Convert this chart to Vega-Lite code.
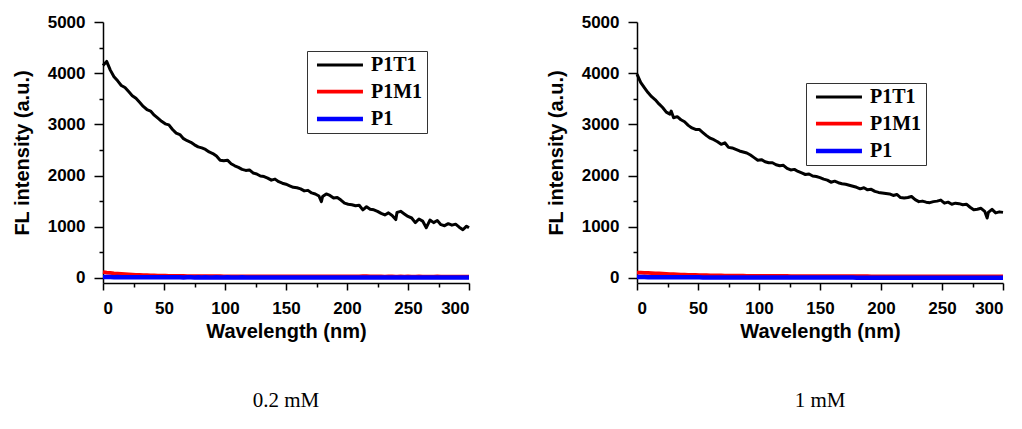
{
  "$schema": "https://vega.github.io/schema/vega-lite/v6.json",
  "padding": {"left": 12, "top": 13, "right": 5, "bottom": 5},
  "background": "white",
  "spacing": 74,
  "config": {
    "view": {"stroke": null},
    "axis": {
      "labelFont": "Liberation Sans", "labelFontWeight": "bold", "labelFontSize": 17, "labelColor": "black",
      "titleFont": "Liberation Sans", "titleFontWeight": "bold", "titleFontSize": 20, "titleColor": "black",
      "domainColor": "black", "tickColor": "black", "domainWidth": 1.5, "tickWidth": 1.5,
      "grid": false, "tickSize": 7, "labelPadding": 5, "format": "d"
    },
    "legend": {
      "strokeColor": "#333333", "fillColor": "white", "padding": 4,
      "symbolType": "M-0.59,0H4.82", "symbolSize": 289, "symbolStrokeWidth": 3,
      "labelFont": "Liberation Serif", "labelFontSize": 20, "labelFontWeight": "bold", "labelColor": "black",
      "rowPadding": 6, "labelOffset": 38
    }
  },
  "resolve": {"scale": {"color": "independent", "strokeWidth": "independent"}, "legend": {"color": "independent"}},
  "datasets": {
    "left": [
      {"x":0,"P1T1":4150,"P1M1":115,"P1":18},
      {"x":3,"P1T1":4230,"P1M1":104,"P1":16},
      {"x":6,"P1T1":4060,"P1M1":96,"P1":15},
      {"x":9,"P1T1":3930,"P1M1":88,"P1":14},
      {"x":12,"P1T1":3850,"P1M1":82,"P1":15},
      {"x":15,"P1T1":3760,"P1M1":77,"P1":13},
      {"x":18,"P1T1":3720,"P1M1":72,"P1":14},
      {"x":21,"P1T1":3640,"P1M1":68,"P1":12},
      {"x":24,"P1T1":3560,"P1M1":64,"P1":13},
      {"x":27,"P1T1":3510,"P1M1":61,"P1":12},
      {"x":30,"P1T1":3430,"P1M1":58,"P1":12},
      {"x":33,"P1T1":3350,"P1M1":55,"P1":11},
      {"x":36,"P1T1":3290,"P1M1":52,"P1":12},
      {"x":39,"P1T1":3260,"P1M1":50,"P1":11},
      {"x":42,"P1T1":3180,"P1M1":48,"P1":11},
      {"x":45,"P1T1":3120,"P1M1":46,"P1":10},
      {"x":48,"P1T1":3060,"P1M1":44,"P1":11},
      {"x":51,"P1T1":3010,"P1M1":43,"P1":10},
      {"x":54,"P1T1":2990,"P1M1":41,"P1":10},
      {"x":57,"P1T1":2900,"P1M1":40,"P1":11},
      {"x":60,"P1T1":2830,"P1M1":39,"P1":10},
      {"x":63,"P1T1":2800,"P1M1":38,"P1":10},
      {"x":66,"P1T1":2720,"P1M1":37,"P1":9},
      {"x":69,"P1T1":2680,"P1M1":36,"P1":10},
      {"x":72,"P1T1":2650,"P1M1":36,"P1":10},
      {"x":75,"P1T1":2600,"P1M1":35,"P1":9},
      {"x":78,"P1T1":2560,"P1M1":34,"P1":10},
      {"x":81,"P1T1":2540,"P1M1":34,"P1":9},
      {"x":84,"P1T1":2510,"P1M1":33,"P1":10},
      {"x":87,"P1T1":2460,"P1M1":33,"P1":9},
      {"x":90,"P1T1":2430,"P1M1":32,"P1":9},
      {"x":93,"P1T1":2380,"P1M1":32,"P1":10},
      {"x":96,"P1T1":2300,"P1M1":32,"P1":9},
      {"x":99,"P1T1":2290,"P1M1":31,"P1":9},
      {"x":102,"P1T1":2300,"P1M1":31,"P1":10},
      {"x":105,"P1T1":2230,"P1M1":31,"P1":9},
      {"x":108,"P1T1":2190,"P1M1":31,"P1":9},
      {"x":111,"P1T1":2160,"P1M1":30,"P1":9},
      {"x":114,"P1T1":2120,"P1M1":30,"P1":10},
      {"x":117,"P1T1":2100,"P1M1":30,"P1":9},
      {"x":120,"P1T1":2110,"P1M1":30,"P1":9},
      {"x":123,"P1T1":2050,"P1M1":30,"P1":9},
      {"x":126,"P1T1":2030,"P1M1":30,"P1":8},
      {"x":129,"P1T1":1990,"P1M1":29,"P1":9},
      {"x":132,"P1T1":1980,"P1M1":30,"P1":9},
      {"x":135,"P1T1":1950,"P1M1":29,"P1":8},
      {"x":138,"P1T1":1910,"P1M1":29,"P1":9},
      {"x":141,"P1T1":1930,"P1M1":30,"P1":9},
      {"x":144,"P1T1":1880,"P1M1":29,"P1":8},
      {"x":147,"P1T1":1850,"P1M1":29,"P1":9},
      {"x":150,"P1T1":1830,"P1M1":29,"P1":8},
      {"x":153,"P1T1":1800,"P1M1":29,"P1":9},
      {"x":156,"P1T1":1770,"P1M1":28,"P1":8},
      {"x":159,"P1T1":1760,"P1M1":29,"P1":9},
      {"x":162,"P1T1":1740,"P1M1":29,"P1":8},
      {"x":165,"P1T1":1700,"P1M1":28,"P1":8},
      {"x":168,"P1T1":1710,"P1M1":29,"P1":9},
      {"x":171,"P1T1":1660,"P1M1":28,"P1":8},
      {"x":174,"P1T1":1640,"P1M1":28,"P1":8},
      {"x":177,"P1T1":1600,"P1M1":29,"P1":9},
      {"x":179,"P1T1":1490,"P1M1":28,"P1":8},
      {"x":180,"P1T1":1590,"P1M1":28,"P1":8},
      {"x":183,"P1T1":1640,"P1M1":29,"P1":9},
      {"x":186,"P1T1":1610,"P1M1":28,"P1":8},
      {"x":189,"P1T1":1560,"P1M1":28,"P1":8},
      {"x":192,"P1T1":1570,"P1M1":28,"P1":9},
      {"x":195,"P1T1":1520,"P1M1":28,"P1":8},
      {"x":198,"P1T1":1460,"P1M1":28,"P1":8},
      {"x":201,"P1T1":1440,"P1M1":29,"P1":9},
      {"x":204,"P1T1":1430,"P1M1":28,"P1":8},
      {"x":207,"P1T1":1410,"P1M1":29,"P1":8},
      {"x":210,"P1T1":1420,"P1M1":31,"P1":9},
      {"x":213,"P1T1":1330,"P1M1":36,"P1":8},
      {"x":216,"P1T1":1390,"P1M1":33,"P1":8},
      {"x":219,"P1T1":1340,"P1M1":30,"P1":9},
      {"x":222,"P1T1":1330,"P1M1":28,"P1":8},
      {"x":225,"P1T1":1300,"P1M1":28,"P1":8},
      {"x":228,"P1T1":1260,"P1M1":28,"P1":9},
      {"x":231,"P1T1":1230,"P1M1":27,"P1":8},
      {"x":234,"P1T1":1270,"P1M1":28,"P1":8},
      {"x":237,"P1T1":1220,"P1M1":28,"P1":9},
      {"x":240,"P1T1":1140,"P1M1":27,"P1":8},
      {"x":241,"P1T1":1280,"P1M1":27,"P1":8},
      {"x":244,"P1T1":1300,"P1M1":28,"P1":8},
      {"x":247,"P1T1":1250,"P1M1":27,"P1":9},
      {"x":250,"P1T1":1200,"P1M1":28,"P1":8},
      {"x":253,"P1T1":1170,"P1M1":27,"P1":8},
      {"x":256,"P1T1":1080,"P1M1":27,"P1":9},
      {"x":259,"P1T1":1150,"P1M1":28,"P1":8},
      {"x":262,"P1T1":1110,"P1M1":27,"P1":8},
      {"x":265,"P1T1":980,"P1M1":27,"P1":8},
      {"x":268,"P1T1":1130,"P1M1":27,"P1":9},
      {"x":271,"P1T1":1080,"P1M1":27,"P1":8},
      {"x":274,"P1T1":1120,"P1M1":28,"P1":8},
      {"x":277,"P1T1":1040,"P1M1":27,"P1":8},
      {"x":280,"P1T1":1020,"P1M1":27,"P1":9},
      {"x":283,"P1T1":1060,"P1M1":27,"P1":8},
      {"x":286,"P1T1":1030,"P1M1":27,"P1":8},
      {"x":289,"P1T1":1050,"P1M1":27,"P1":8},
      {"x":292,"P1T1":990,"P1M1":26,"P1":9},
      {"x":295,"P1T1":940,"P1M1":27,"P1":8},
      {"x":298,"P1T1":1010,"P1M1":26,"P1":8},
      {"x":300,"P1T1":980,"P1M1":26,"P1":8}
    ],
    "right": [
      {"x":0,"P1T1":3980,"P1M1":105,"P1":18},
      {"x":3,"P1T1":3820,"P1M1":102,"P1":16},
      {"x":6,"P1T1":3720,"P1M1":100,"P1":15},
      {"x":9,"P1T1":3620,"P1M1":98,"P1":14},
      {"x":12,"P1T1":3540,"P1M1":95,"P1":14},
      {"x":15,"P1T1":3480,"P1M1":90,"P1":13},
      {"x":18,"P1T1":3400,"P1M1":86,"P1":13},
      {"x":21,"P1T1":3330,"P1M1":82,"P1":12},
      {"x":24,"P1T1":3240,"P1M1":78,"P1":12},
      {"x":27,"P1T1":3200,"P1M1":75,"P1":12},
      {"x":28,"P1T1":3260,"P1M1":74,"P1":12},
      {"x":30,"P1T1":3130,"P1M1":72,"P1":11},
      {"x":33,"P1T1":3150,"P1M1":69,"P1":11},
      {"x":36,"P1T1":3090,"P1M1":66,"P1":11},
      {"x":39,"P1T1":3050,"P1M1":63,"P1":10},
      {"x":42,"P1T1":2980,"P1M1":61,"P1":10},
      {"x":45,"P1T1":2930,"P1M1":59,"P1":10},
      {"x":48,"P1T1":2900,"P1M1":57,"P1":10},
      {"x":51,"P1T1":2900,"P1M1":55,"P1":10},
      {"x":54,"P1T1":2840,"P1M1":53,"P1":9},
      {"x":57,"P1T1":2780,"P1M1":52,"P1":9},
      {"x":60,"P1T1":2730,"P1M1":50,"P1":9},
      {"x":63,"P1T1":2700,"P1M1":49,"P1":9},
      {"x":66,"P1T1":2660,"P1M1":48,"P1":9},
      {"x":69,"P1T1":2610,"P1M1":47,"P1":9},
      {"x":72,"P1T1":2640,"P1M1":46,"P1":8},
      {"x":75,"P1T1":2550,"P1M1":45,"P1":8},
      {"x":78,"P1T1":2540,"P1M1":44,"P1":8},
      {"x":81,"P1T1":2510,"P1M1":43,"P1":8},
      {"x":84,"P1T1":2480,"P1M1":43,"P1":8},
      {"x":87,"P1T1":2460,"P1M1":42,"P1":8},
      {"x":90,"P1T1":2440,"P1M1":41,"P1":8},
      {"x":93,"P1T1":2400,"P1M1":41,"P1":8},
      {"x":96,"P1T1":2350,"P1M1":40,"P1":8},
      {"x":99,"P1T1":2300,"P1M1":40,"P1":7},
      {"x":102,"P1T1":2310,"P1M1":39,"P1":7},
      {"x":105,"P1T1":2270,"P1M1":39,"P1":7},
      {"x":108,"P1T1":2250,"P1M1":38,"P1":7},
      {"x":111,"P1T1":2250,"P1M1":38,"P1":7},
      {"x":114,"P1T1":2210,"P1M1":38,"P1":7},
      {"x":117,"P1T1":2190,"P1M1":37,"P1":7},
      {"x":120,"P1T1":2200,"P1M1":37,"P1":7},
      {"x":123,"P1T1":2140,"P1M1":37,"P1":7},
      {"x":126,"P1T1":2110,"P1M1":36,"P1":7},
      {"x":129,"P1T1":2120,"P1M1":36,"P1":7},
      {"x":132,"P1T1":2080,"P1M1":36,"P1":6},
      {"x":135,"P1T1":2050,"P1M1":35,"P1":6},
      {"x":138,"P1T1":2020,"P1M1":35,"P1":6},
      {"x":141,"P1T1":2030,"P1M1":35,"P1":6},
      {"x":144,"P1T1":1990,"P1M1":35,"P1":6},
      {"x":147,"P1T1":1980,"P1M1":34,"P1":6},
      {"x":150,"P1T1":1960,"P1M1":34,"P1":6},
      {"x":153,"P1T1":1930,"P1M1":34,"P1":6},
      {"x":156,"P1T1":1910,"P1M1":34,"P1":6},
      {"x":159,"P1T1":1870,"P1M1":33,"P1":6},
      {"x":162,"P1T1":1890,"P1M1":33,"P1":6},
      {"x":165,"P1T1":1860,"P1M1":33,"P1":6},
      {"x":168,"P1T1":1840,"P1M1":33,"P1":6},
      {"x":171,"P1T1":1830,"P1M1":33,"P1":6},
      {"x":174,"P1T1":1810,"P1M1":32,"P1":6},
      {"x":177,"P1T1":1790,"P1M1":32,"P1":6},
      {"x":180,"P1T1":1770,"P1M1":32,"P1":5},
      {"x":183,"P1T1":1740,"P1M1":32,"P1":5},
      {"x":186,"P1T1":1760,"P1M1":32,"P1":5},
      {"x":189,"P1T1":1720,"P1M1":32,"P1":5},
      {"x":192,"P1T1":1730,"P1M1":31,"P1":5},
      {"x":195,"P1T1":1690,"P1M1":31,"P1":5},
      {"x":198,"P1T1":1670,"P1M1":31,"P1":5},
      {"x":201,"P1T1":1660,"P1M1":31,"P1":5},
      {"x":204,"P1T1":1650,"P1M1":31,"P1":5},
      {"x":207,"P1T1":1640,"P1M1":31,"P1":5},
      {"x":210,"P1T1":1610,"P1M1":31,"P1":5},
      {"x":213,"P1T1":1630,"P1M1":31,"P1":5},
      {"x":216,"P1T1":1570,"P1M1":30,"P1":5},
      {"x":219,"P1T1":1560,"P1M1":30,"P1":5},
      {"x":222,"P1T1":1570,"P1M1":30,"P1":5},
      {"x":225,"P1T1":1590,"P1M1":30,"P1":5},
      {"x":228,"P1T1":1530,"P1M1":30,"P1":5},
      {"x":231,"P1T1":1490,"P1M1":30,"P1":5},
      {"x":234,"P1T1":1500,"P1M1":30,"P1":5},
      {"x":237,"P1T1":1480,"P1M1":30,"P1":5},
      {"x":240,"P1T1":1470,"P1M1":30,"P1":5},
      {"x":243,"P1T1":1490,"P1M1":30,"P1":5},
      {"x":246,"P1T1":1500,"P1M1":30,"P1":5},
      {"x":249,"P1T1":1520,"P1M1":29,"P1":5},
      {"x":252,"P1T1":1460,"P1M1":29,"P1":5},
      {"x":255,"P1T1":1480,"P1M1":29,"P1":5},
      {"x":258,"P1T1":1440,"P1M1":29,"P1":5},
      {"x":261,"P1T1":1460,"P1M1":29,"P1":5},
      {"x":264,"P1T1":1450,"P1M1":29,"P1":5},
      {"x":267,"P1T1":1430,"P1M1":29,"P1":5},
      {"x":270,"P1T1":1440,"P1M1":29,"P1":5},
      {"x":273,"P1T1":1380,"P1M1":29,"P1":5},
      {"x":276,"P1T1":1330,"P1M1":29,"P1":5},
      {"x":279,"P1T1":1340,"P1M1":29,"P1":5},
      {"x":282,"P1T1":1360,"P1M1":28,"P1":5},
      {"x":285,"P1T1":1300,"P1M1":28,"P1":5},
      {"x":287,"P1T1":1170,"P1M1":28,"P1":5},
      {"x":288,"P1T1":1280,"P1M1":28,"P1":5},
      {"x":291,"P1T1":1340,"P1M1":28,"P1":5},
      {"x":294,"P1T1":1270,"P1M1":28,"P1":5},
      {"x":297,"P1T1":1290,"P1M1":28,"P1":5},
      {"x":300,"P1T1":1280,"P1M1":28,"P1":5}
    ]
  },
  "hconcat": [
    {
      "width": 366, "height": 261,
      "data": {"name": "left"},
      "transform": [{"fold": ["P1T1", "P1M1", "P1"], "as": ["series", "value"]}],
      "title": {"text": "0.2 mM", "orient": "bottom", "frame": "group", "anchor": "middle", "font": "Liberation Serif", "fontSize": 21, "fontWeight": "normal", "color": "black", "offset": 49},
      "layer": [
        {
          "mark": {"type": "line", "strokeJoin": "round"},
          "encoding": {
            "x": {"field": "x", "type": "quantitative", "scale": {"domain": [0, 300], "nice": false}, "axis": {"values": [0, 50, 100, 150, 200, 250, 300], "title": "Wavelength (nm)", "labelPadding": 10, "titlePadding": 5}},
            "y": {"field": "value", "type": "quantitative", "scale": {"domain": [-100, 5000], "nice": false, "zero": false}, "axis": {"values": [0, 1000, 2000, 3000, 4000, 5000], "title": "FL intensity (a.u.)", "tickSize": 9, "labelPadding": 9, "titlePadding": 15}},
            "color": {"field": "series", "type": "nominal", "scale": {"domain": ["P1T1", "P1M1", "P1"], "range": ["#000000", "#ff0000", "#0000ff"]}, "legend": {"title": null, "orient": "none", "legendX": 204, "legendY": 29}},
            "strokeWidth": {"field": "series", "type": "nominal", "scale": {"domain": ["P1T1", "P1M1", "P1"], "range": [3, 4.5, 4.5]}, "legend": null}
          }
        },
        {
          "mark": {"type": "point", "opacity": 0},
          "encoding": {
            "x": {"field": "x", "type": "quantitative", "axis": {"values": [25, 75, 125, 175, 225, 275], "labels": false, "domain": false, "tickSize": 4, "title": null, "orient": "bottom"}},
            "y": {"field": "value", "type": "quantitative", "axis": {"values": [500, 1500, 2500, 3500, 4500], "labels": false, "domain": false, "tickSize": 4, "title": null, "orient": "left"}}
          }
        }
      ],
      "resolve": {"axis": {"x": "independent", "y": "independent"}}
    },
    {
      "width": 366, "height": 261,
      "data": {"name": "right"},
      "transform": [{"fold": ["P1T1", "P1M1", "P1"], "as": ["series", "value"]}],
      "title": {"text": "1 mM", "orient": "bottom", "frame": "group", "anchor": "middle", "font": "Liberation Serif", "fontSize": 21, "fontWeight": "normal", "color": "black", "offset": 49},
      "layer": [
        {
          "mark": {"type": "line", "strokeJoin": "round"},
          "encoding": {
            "x": {"field": "x", "type": "quantitative", "scale": {"domain": [0, 300], "nice": false}, "axis": {"values": [0, 50, 100, 150, 200, 250, 300], "title": "Wavelength (nm)", "labelPadding": 10, "titlePadding": 5}},
            "y": {"field": "value", "type": "quantitative", "scale": {"domain": [-100, 5000], "nice": false, "zero": false}, "axis": {"values": [0, 1000, 2000, 3000, 4000, 5000], "title": "FL intensity (a.u.)", "tickSize": 9, "labelPadding": 9, "titlePadding": 15}},
            "color": {"field": "series", "type": "nominal", "scale": {"domain": ["P1T1", "P1M1", "P1"], "range": ["#000000", "#ff0000", "#0000ff"]}, "legend": {"title": null, "orient": "none", "legendX": 169, "legendY": 61}},
            "strokeWidth": {"field": "series", "type": "nominal", "scale": {"domain": ["P1T1", "P1M1", "P1"], "range": [3, 4.5, 4.5]}, "legend": null}
          }
        },
        {
          "mark": {"type": "point", "opacity": 0},
          "encoding": {
            "x": {"field": "x", "type": "quantitative", "axis": {"values": [25, 75, 125, 175, 225, 275], "labels": false, "domain": false, "tickSize": 4, "title": null, "orient": "bottom"}},
            "y": {"field": "value", "type": "quantitative", "axis": {"values": [500, 1500, 2500, 3500, 4500], "labels": false, "domain": false, "tickSize": 4, "title": null, "orient": "left"}}
          }
        }
      ],
      "resolve": {"axis": {"x": "independent", "y": "independent"}}
    }
  ]
}
